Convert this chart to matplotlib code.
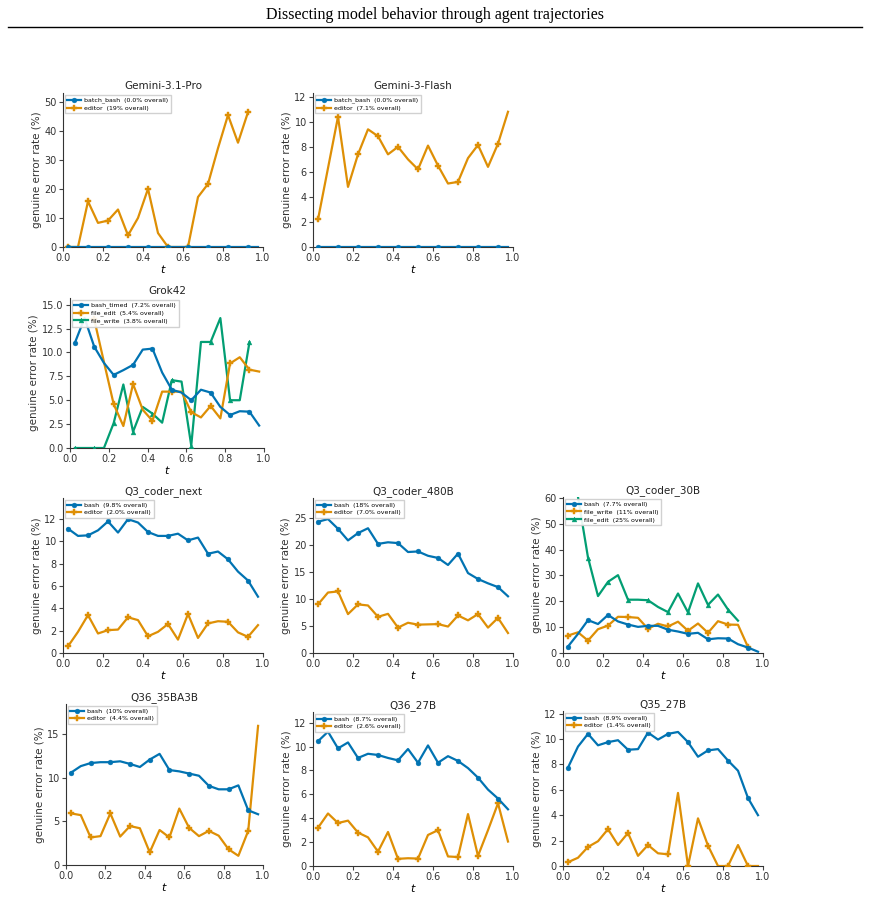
import numpy as np
import matplotlib.pyplot as plt

nan = np.nan

# bin centres along the trajectory
t_bins = [0.025, 0.075, 0.125, 0.175, 0.225, 0.275, 0.325, 0.375, 0.425, 0.475,
          0.525, 0.575, 0.625, 0.675, 0.725, 0.775, 0.825, 0.875, 0.925, 0.975]

# Gemini-3.1-Pro
g31_batch_bash = [0] * 20
g31_editor = [0, 0, 15.7, 8.3, 9.1, 12.9, 4.0, 10.0, 20.0, 4.8,
              0, 0, 0, 17.2, 21.7, 34.0, 45.4, 35.9, 46.4, nan]

# Gemini-3-Flash
g3f_batch_bash = [0] * 20
g3f_editor = [2.2, 6.3, 10.4, 4.8, 7.4, 9.4, 8.85, 7.4, 8.0, 7.0,
              6.2, 8.1, 6.5, 5.07, 5.2, 7.1, 8.15, 6.4, 8.25, 10.8]

# Grok42
grok_bash_timed = [11.0, 13.6, 10.6, 8.9, 7.65, 8.15, 8.7, 10.3, 10.4, 7.9,
                   6.1, 5.8, 5.0, 6.1, 5.8, 4.3, 3.45, 3.85, 3.8, 2.35]
grok_file_edit = [nan, nan, 13.45, 9.0, 4.6, 2.3, 6.7, 4.0, 2.85, 5.9,
                  5.9, 5.9, 3.75, 3.2, 4.4, 3.1, 8.85, 9.5, 8.2, 8.0]
grok_file_write = [0, 0, 0, 0, 2.6, 6.65, 1.7, 4.3, 3.6, 2.65,
                   7.1, 6.95, 0.25, 11.1, 11.1, 13.6, 5.0, 5.0, 11.05, nan]

# Q3_coder_next
q3n_bash = [11.15, 10.5, 10.55, 11.0, 11.8, 10.8, 12.0, 11.7, 10.85, 10.5,
            10.5, 10.7, 10.1, 10.35, 8.9, 9.1, 8.4, 7.3, 6.5, 5.05]
q3n_editor = [0.6, 1.9, 3.4, 1.75, 2.05, 2.1, 3.2, 2.95, 1.5, 1.9,
              2.6, 1.2, 3.5, 1.35, 2.65, 2.85, 2.8, 1.85, 1.45, 2.5]

# Q3_coder_480B
q3b_bash = [24.3, 24.8, 23.0, 20.85, 22.2, 23.1, 20.2, 20.5, 20.35, 18.7,
            18.8, 18.0, 17.6, 16.3, 18.4, 14.8, 13.7, 12.9, 12.2, 10.5]
q3b_editor = [9.0, 11.2, 11.4, 7.2, 9.0, 8.8, 6.7, 7.25, 4.7, 5.6,
              5.25, 5.3, 5.35, 4.9, 6.95, 6.05, 7.2, 4.7, 6.5, 3.7]

# Q3_coder_30B
q30_bash = [2.5, 7.4, 12.7, 11.2, 14.7, 12.2, 11.0, 10.1, 10.5, 10.5,
            9.0, 8.3, 7.4, 7.8, 5.3, 5.7, 5.6, 3.4, 2.1, 0.5]
q30_file_write = [6.75, 8.0, 4.8, 9.2, 10.6, 14.0, 13.9, 13.6, 9.35, 11.3,
                  10.25, 12.1, 8.6, 11.4, 7.8, 12.3, 11.0, 10.9, 2.3, nan]
q30_file_edit = [nan, 60.3, 36.9, 22.0, 27.5, 30.1, 20.6, 20.6, 20.4, 17.8,
                 15.8, 23.0, 15.7, 26.9, 18.6, 22.6, 16.8, 12.5, nan, nan]

# Q36_35BA3B
q36a_bash = [10.55, 11.3, 11.65, 11.75, 11.75, 11.85, 11.55, 11.2, 12.05, 12.7,
             10.85, 10.7, 10.45, 10.2, 9.05, 8.65, 8.65, 9.1, 6.25, 5.8]
q36a_editor = [5.9, 5.7, 3.15, 3.3, 5.9, 3.25, 4.45, 4.2, 1.45, 4.0,
               3.15, 6.45, 4.25, 3.3, 3.9, 3.35, 1.8, 1.05, 3.9, 15.9]

# Q36_27B
q36_bash = [10.45, 11.25, 9.85, 10.35, 9.05, 9.4, 9.3, 9.05, 8.85, 9.8,
            8.65, 10.1, 8.65, 9.2, 8.8, 8.2, 7.4, 6.4, 5.65, 4.75]
q36_editor = [3.2, 4.4, 3.6, 3.8, 2.8, 2.4, 1.2, 2.85, 0.6, 0.65,
              0.62, 2.6, 3.0, 0.8, 0.75, 4.35, 0.85, 3.0, 5.25, 2.05]

# Q35_27B
q35_bash = [7.75, 9.4, 10.4, 9.5, 9.75, 9.9, 9.15, 9.2, 10.5, 9.95,
            10.4, 10.55, 9.75, 8.6, 9.1, 9.2, 8.3, 7.5, 5.35, 4.0]
q35_editor = [0.3, 0.65, 1.5, 1.95, 2.9, 1.65, 2.6, 0.8, 1.65, 1.0,
              0.92, 5.75, 0, 3.75, 1.6, 0, 0, 1.65, 0, 0]

colors = ['#0173B2', '#DE8F05', '#029E73']
markers = ['o', 'P', '^']
msizes = [3.5, 4.5, 3.5]

W, H = 869, 898
fig = plt.figure(figsize=(W / 100, H / 100), dpi=100)
plt.rcParams['font.family'] = ['DejaVu Sans']

fig.text(0.5, 1 - 15 / H, 'Dissecting model behavior through agent trajectories',
         ha='center', va='center', fontsize=11.5, family='Liberation Serif')
fig.add_artist(plt.Line2D([8 / W, 862 / W], [1 - 27 / H, 1 - 27 / H],
                          color='black', lw=1.0))

# (title, box in px: left, right, top, bottom, ylim, yticks, [(label, values)])
panels = [
    ('Gemini-3.1-Pro', (63, 263, 93, 247), 53, np.arange(0, 51, 10),
     [('batch_bash  (0.0% overall)', g31_batch_bash),
      ('editor  (19% overall)', g31_editor)]),
    ('Gemini-3-Flash', (313, 513, 93, 247), 12.3, np.arange(0, 13, 2),
     [('batch_bash  (0.0% overall)', g3f_batch_bash),
      ('editor  (7.1% overall)', g3f_editor)]),
    ('Grok42', (70, 264, 298, 448), 15.7, np.arange(0, 15.1, 2.5),
     [('bash_timed  (7.2% overall)', grok_bash_timed),
      ('file_edit  (5.4% overall)', grok_file_edit),
      ('file_write  (3.8% overall)', grok_file_write)]),
    ('Q3_coder_next', (63, 263, 498, 653), 13.9, np.arange(0, 13, 2),
     [('bash  (9.8% overall)', q3n_bash),
      ('editor  (2.0% overall)', q3n_editor)]),
    ('Q3_coder_480B', (313, 513, 498, 653), 28.7, np.arange(0, 26, 5),
     [('bash  (18% overall)', q3b_bash),
      ('editor  (7.0% overall)', q3b_editor)]),
    ('Q3_coder_30B', (563, 763, 497, 653), 60.3, np.arange(0, 61, 10),
     [('bash  (7.7% overall)', q30_bash),
      ('file_write  (11% overall)', q30_file_write),
      ('file_edit  (25% overall)', q30_file_edit)]),
    ('Q36_35BA3B', (66, 263, 704, 865), 18.4, np.arange(0, 16, 5),
     [('bash  (10% overall)', q36a_bash),
      ('editor  (4.4% overall)', q36a_editor)]),
    ('Q36_27B', (313, 513, 712, 866), 12.9, np.arange(0, 13, 2),
     [('bash  (8.7% overall)', q36_bash),
      ('editor  (2.6% overall)', q36_editor)]),
    ('Q35_27B', (563, 763, 711, 866), 12.2, np.arange(0, 13, 2),
     [('bash  (8.9% overall)', q35_bash),
      ('editor  (1.4% overall)', q35_editor)]),
]

spine_col = '#333333'
for title, (l, r, top, b), ytop, yticks, series in panels:
    ax = fig.add_axes([l / W, 1 - b / H, (r - l) / W, (b - top) / H])
    for i, (label, vals) in enumerate(series):
        ax.plot(t_bins, vals, color=colors[i], marker=markers[i], markevery=2,
                ms=msizes[i], mec=colors[i], mew=0.3, lw=1.6,
                label=label, zorder=3 - i * 0.1)
    ax.set_xlim(0, 1)
    ax.set_ylim(0, ytop)
    ax.set_xticks(np.arange(0, 1.01, 0.2))
    ax.set_yticks(yticks)
    ax.tick_params(labelsize=7, length=3, width=0.8, pad=1.5, colors='#444444',
                   labelcolor='#333333')
    for s in ['top', 'right']:
        ax.spines[s].set_visible(False)
    for s in ['left', 'bottom']:
        ax.spines[s].set_color(spine_col)
        ax.spines[s].set_linewidth(0.8)
    ax.set_title(title, fontsize=7.5, pad=3, color='#222222')
    ax.set_xlabel('$t$', fontsize=8, labelpad=0)
    ax.set_ylabel('genuine error rate (%)', fontsize=7.5, labelpad=2, color='#333333')
    ax.legend(loc='upper left', fontsize=4.5, frameon=True, framealpha=0.9,
              edgecolor='#cccccc', fancybox=False, borderpad=0.4,
              handlelength=2.2, handletextpad=0.5, labelspacing=0.3,
              borderaxespad=0.3)

fig.savefig('out.png', dpi=100)
